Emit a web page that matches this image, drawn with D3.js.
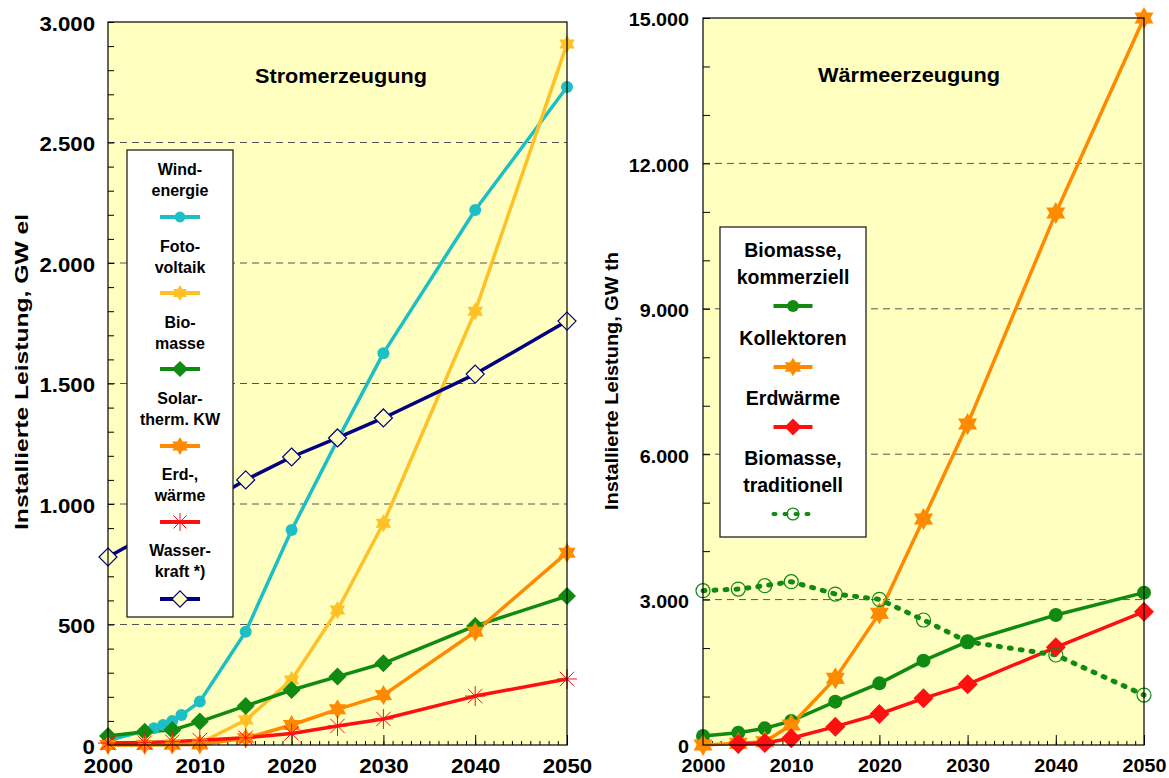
<!DOCTYPE html>
<html><head><meta charset="utf-8">
<script src="https://cdn.jsdelivr.net/npm/d3@7"></script>
<style>
html,body{margin:0;padding:0;background:#fff;}
svg{display:block;font-family:"Liberation Sans",Arial,sans-serif;font-weight:bold;}
</style></head><body>
<svg id="chart" width="1169" height="778"></svg>
<script>
// ---------- DATA ----------
const stromYears   = [2000,2004,2007,2010,2015,2020,2025,2030,2040,2050];
const windYears    = [2000,2005,2006,2007,2008,2010,2015,2020,2025,2030,2040,2050];
const windValues   = [18,69,83,100,124,180,470,892,1265,1626,2220,2730];
const pvValues     = [1,2,4,7,104,270,560,920,1800,2909];
const bioValues    = [37,55,62,97,162,228,284,339,494,618];
const solarValues  = [0,0,1,2,28,83,148,207,470,798];
const geoValues    = [8,10,14,20,30,48,79,108,203,274];
const hydroYears   = [2000,2010,2015,2020,2025,2030,2040,2050];
const hydroValues  = [780,990,1100,1195,1274,1357,1539,1759];

const waermeYears     = [2000,2004,2007,2010,2015,2020,2025,2030,2040,2050];
const bioKommValues   = [186,254,344,495,894,1272,1740,2132,2682,3143];
const kollektorValues = [0,34,69,413,1375,2716,4662,6622,10975,15000];
const erdwYears       = [2004,2007,2010,2015,2020,2025,2030,2040,2050];
const erdwValues      = [20,40,138,378,640,963,1252,2015,2751];
const bioTradValues   = [3184,3218,3287,3370,3115,3005,2579,2130,1857,1031];

const stromTicks  = [0,500,1000,1500,2000,2500,3000];
const waermeTicks = [0,3000,6000,9000,12000,15000];
const yearTicks   = [2000,2010,2020,2030,2040,2050];

const stromTitle  = "Stromerzeugung";
const waermeTitle = "Wärmeerzeugung";
const stromYLabel  = "Installierte Leistung, GW el";
const waermeYLabel = "Installierte Leistung, GW th";

const stromNames  = [["Wind-","energie"],["Foto-","voltaik"],["Bio-","masse"],["Solar-","therm. KW"],["Erd-,","wärme"],["Wasser-","kraft *)"]];
const waermeNames = [["Biomasse,","kommerziell"],["Kollektoren"],["Erdwärme"],["Biomasse,","traditionell"]];

// ---------- HELPERS ----------
const svg = d3.select("#chart");
const de = d3.formatLocale({decimal:",", thousands:".", grouping:[3], currency:["","€"]});
const fmt = de.format(",d");
const BG = "#FFFFC0";

function stretch(sel, k){
  sel.each(function(){
    const w = this.getComputedTextLength();
    this.setAttribute("textLength", (w*k).toFixed(1));
    this.setAttribute("lengthAdjust","spacingAndGlyphs");
  });
}
function fitTo(sel, w){
  sel.attr("textLength", w).attr("lengthAdjust","spacingAndGlyphs");
}
function hexagram(R){
  const r = R*0.58, pts=[];
  for(let i=0;i<12;i++){
    const a = -Math.PI/2 + i*Math.PI/6;
    const rr = i%2===0 ? R : r;
    pts.push([rr*Math.cos(a), rr*Math.sin(a)]);
  }
  return "M"+pts.map(p=>p[0].toFixed(2)+","+p[1].toFixed(2)).join("L")+"Z";
}
function diamond(R){ return `M0,${-R}L${R},0L0,${R}L${-R},0Z`; }
function asterisk(R){
  const d = R*0.72;
  return `M0,${-R}V${R}M${-d},${-d}L${d},${d}M${d},${-d}L${-d},${d}M${-R},0H${R}`;
}
function drawMarker(g, m, x, y){
  if(m.type==="circle"){
    g.append("circle").attr("cx",x).attr("cy",y).attr("r",m.size)
      .attr("fill",m.fill||"none").attr("stroke",m.stroke||"none").attr("stroke-width",m.sw||0);
  } else {
    const d = m.type==="star" ? hexagram(m.size) : m.type==="diamond" ? diamond(m.size) : asterisk(m.size);
    g.append("path").attr("d",d).attr("transform",`translate(${x},${y})`)
      .attr("fill",m.fill||"none").attr("stroke",m.stroke||"none").attr("stroke-width",m.sw||0);
  }
}

function panel(cfg){
  const g = svg.append("g");
  const x = d3.scaleLinear().domain([2000,2050]).range([cfg.x0,cfg.x1]);
  const y = d3.scaleLinear().domain([0,cfg.ymax]).range([745,cfg.ytop]);

  g.append("rect").attr("x",cfg.x0).attr("y",cfg.ytop).attr("width",cfg.x1-cfg.x0).attr("height",745-cfg.ytop).attr("fill",BG);

  // gridlines
  g.append("g").selectAll("line").data(cfg.ticks.filter(t=>t>0&&t<cfg.ymax)).join("line")
    .attr("x1",cfg.x0).attr("x2",cfg.x1).attr("y1",d=>y(d)).attr("y2",d=>y(d))
    .attr("stroke","#555").attr("stroke-width",1).attr("stroke-dasharray","7,5");

  // minor y ticks (inside)
  const minor = d3.range(0,cfg.ymax+1,cfg.minorStep);
  const ay = g.append("g").attr("transform",`translate(${cfg.x0},0)`)
    .call(d3.axisRight(y).tickValues(minor).tickSize(cfg.ytick).tickFormat(""));
  ay.select(".domain").remove();
  ay.selectAll("line").attr("stroke","#000");

  // x ticks (inside)
  const ax = g.append("g").attr("transform",`translate(0,745)`)
    .call(d3.axisTop(x).tickValues(d3.range(2000,2051,1)).tickSize(4).tickFormat(""));
  ax.select(".domain").remove();
  const ax2 = g.append("g").attr("transform",`translate(0,745)`)
    .call(d3.axisTop(x).tickValues(yearTicks).tickSize(10).tickFormat(""));
  ax2.select(".domain").remove();

  // y labels
  const yl = g.append("g").attr("transform",`translate(${cfg.x0},0)`)
    .call(d3.axisLeft(y).tickValues(cfg.ticks).tickSize(0).tickPadding(cfg.ypad).tickFormat(fmt));
  yl.select(".domain").remove();
  yl.selectAll("text").attr("font-size",cfg.tickFont).attr("font-family","Liberation Sans, Arial, sans-serif")
    .attr("font-weight","bold").attr("fill","#000").attr("dy","0.42em");
  stretch(yl.selectAll("text"), cfg.tickStretch);

  // x labels
  const xl = g.append("g").attr("transform",`translate(0,745)`)
    .call(d3.axisBottom(x).tickValues(yearTicks).tickSize(0).tickPadding(14).tickFormat(d3.format("d")));
  xl.select(".domain").remove();
  xl.selectAll("text").attr("font-size",cfg.tickFont).attr("font-family","Liberation Sans, Arial, sans-serif")
    .attr("font-weight","bold").attr("fill","#000");
  stretch(xl.selectAll("text"), cfg.tickStretch);

  // series
  const line = d3.line().x(d=>x(d[0])).y(d=>y(d[1]));
  cfg.series.forEach(s=>{
    const pts = s.years.map((yr,i)=>[yr,s.values[i]]);
    g.append("path").datum(pts).attr("d",line).attr("fill","none")
      .attr("stroke",s.color).attr("stroke-width",s.lw)
      .attr("stroke-linejoin","round").attr("stroke-linecap",s.dash?"round":"butt")
      .attr("stroke-dasharray",s.dash||null);
    s.markerPts = pts;
  });
  cfg.series.forEach(s=>{
    const mg = g.append("g");
    s.markerPts.forEach(p=>drawMarker(mg, s.marker, x(p[0]), y(p[1])));
  });

  // border
  g.append("rect").attr("x",cfg.x0).attr("y",cfg.ytop).attr("width",cfg.x1-cfg.x0).attr("height",745-cfg.ytop)
    .attr("fill","none").attr("stroke","#000").attr("stroke-width",1.2);

  // title
  const t = g.append("text").attr("x",cfg.titleX).attr("y",cfg.titleY).attr("text-anchor","middle")
    .attr("font-size",20).attr("fill","#000").text(cfg.title);
  fitTo(t, cfg.titleW);

  // y-axis label
  const yt = g.append("text").attr("transform",`translate(${cfg.ylabX},${cfg.ylabY}) rotate(-90)`)
    .attr("text-anchor","middle").attr("font-size",cfg.ylabFont).attr("fill","#000").text(cfg.ylabel);
  fitTo(yt, cfg.ylabW);

  // legend
  const L = cfg.legend;
  const lg = g.append("g");
  lg.append("rect").attr("x",L.x).attr("y",L.y).attr("width",L.w).attr("height",L.h)
    .attr("fill","#fff").attr("stroke","#222").attr("stroke-width",1.3);
  cfg.series.forEach((s,i)=>{
    const it = L.items[i];
    s.name.forEach((ln,j)=>{
      lg.append("text").attr("x",L.cx).attr("y",it.base + j*L.lineGap).attr("text-anchor","middle")
        .attr("font-size",L.font).attr("fill","#000").text(ln);
    });
    lg.append("line").attr("x1",L.cx-L.half).attr("x2",L.cx+L.half).attr("y1",it.sym).attr("y2",it.sym)
      .attr("stroke",s.color).attr("stroke-width",4).attr("stroke-linecap",s.dash?"round":"butt")
      .attr("stroke-dasharray",s.dash?"2,9":null);
    drawMarker(lg, Object.assign({}, s.marker, {size:s.marker.size*L.mscale}), L.cx, it.sym);
  });
}

const CYAN="#1EBFC4", GOLD="#FFC125", GREEN="#118A11", ORANGE="#FF8A00", RED="#FF1010", NAVY="#000080";

panel({
  x0:108, x1:567, ytop:22, ymax:3000, ticks:stromTicks, minorStep:100, ytick:6,
  ypad:13, tickFont:19.5, tickStretch:1.14,
  title:stromTitle, titleX:341, titleY:83, titleW:172,
  ylabel:stromYLabel, ylabX:28, ylabY:372, ylabFont:18, ylabW:316,
  series:[
    {name:stromNames[0], years:windYears,  values:windValues,  color:CYAN,   lw:3.5, marker:{type:"circle", size:6, fill:CYAN}},
    {name:stromNames[1], years:stromYears, values:pvValues,    color:GOLD,   lw:3.5, marker:{type:"star", size:9, fill:GOLD}},
    {name:stromNames[2], years:stromYears, values:bioValues,   color:GREEN,  lw:3.5, marker:{type:"diamond", size:9, fill:GREEN}},
    {name:stromNames[3], years:stromYears, values:solarValues, color:ORANGE, lw:3.5, marker:{type:"star", size:10, fill:ORANGE}},
    {name:stromNames[4], years:stromYears, values:geoValues,   color:RED,    lw:3.5, marker:{type:"asterisk", size:10, stroke:RED, sw:1}},
    {name:stromNames[5], years:hydroYears, values:hydroValues, color:NAVY,   lw:3.5, marker:{type:"diamond", size:9, fill:BG, stroke:NAVY, sw:1.2}}
  ],
  legend:{x:127, y:150, w:106, h:467, cx:180, half:20, font:16, lineGap:21, mscale:0.9,
    items:[{base:175,sym:217},{base:252,sym:293},{base:328,sym:369},{base:404,sym:446},{base:480,sym:522},{base:556,sym:599}]}
});

panel({
  x0:703, x1:1144, ytop:18, ymax:15000, ticks:waermeTicks, minorStep:1000, ytick:7,
  ypad:14, tickFont:18.6, tickStretch:1.06,
  title:waermeTitle, titleX:909, titleY:82, titleW:182,
  ylabel:waermeYLabel, ylabX:618, ylabY:381, ylabFont:18, ylabW:258,
  series:[
    {name:waermeNames[0], years:waermeYears, values:bioKommValues,   color:GREEN,  lw:3.5, marker:{type:"circle", size:7, fill:GREEN}},
    {name:waermeNames[1], years:waermeYears, values:kollektorValues, color:ORANGE, lw:3.5, marker:{type:"star", size:11, fill:ORANGE}},
    {name:waermeNames[2], years:erdwYears,   values:erdwValues,      color:RED,    lw:3.5, marker:{type:"diamond", size:10, fill:RED}},
    {name:waermeNames[3], years:waermeYears, values:bioTradValues,   color:GREEN,  lw:5, dash:"2,9", marker:{type:"circle", size:7, stroke:GREEN, sw:1.2}}
  ],
  legend:{x:720, y:227, w:146, h:310, cx:793, half:19.5, font:19.5, lineGap:26.5, mscale:0.85,
    items:[{base:257,sym:306},{base:345,sym:367},{base:405,sym:427},{base:465,sym:514}]}
});
</script>
</body></html>
